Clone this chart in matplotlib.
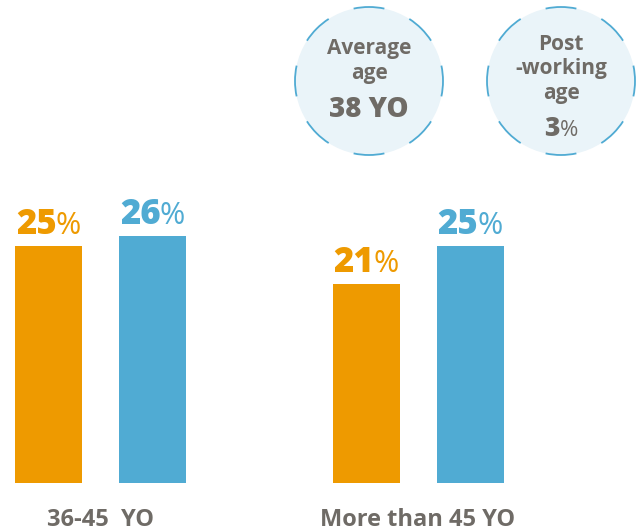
import matplotlib
matplotlib.use("Agg")
import matplotlib.pyplot as plt
from matplotlib.patches import Circle, Arc

# ---- data ----
categories = ["36-45  YO", "More than 45 YO"]
series_names = ["Series A", "Series B"]
values_a = [25, 21]   # orange
values_b = [26, 25]   # blue
avg_age_label = ["Average", "age"]
avg_age_value = "38 YO"
post_label = ["Post", "-working", "age"]
post_value = 3

ORANGE = "#EE9A00"
BLUE = "#50ABD3"
GREY = "#6F6B66"
FILL = "#EAF4F9"
FONT = "Open Sans"

fig = plt.figure(figsize=(6.42, 5.32), dpi=100)
ax = fig.add_axes([0, 0, 1, 1])
ax.set_xlim(0, 642)
ax.set_ylim(-(532 - 483) / 9.5, 483 / 9.5)
ax.axis("off")

group_centers = [100.5, 418]
offset = 52
width = 67
xa = [c - offset for c in group_centers]
xb = [c + offset for c in group_centers]
ax.bar(xa, values_a, width=width, color=ORANGE)
ax.bar(xb, values_b, width=width, color=BLUE)

fig.canvas.draw()
renderer = fig.canvas.get_renderer()
px_per_unit = 9.5

def value_label(x, v, color):
    y = v + 12 / px_per_unit
    t1 = ax.text(x, y, f"{v}", color=color, fontsize=25, fontweight=800,
                 family=FONT, ha="left", va="baseline")
    t2 = ax.text(x, y, "%", color=color, fontsize=22, fontweight=400,
                 family=FONT, ha="left", va="baseline")
    w1 = t1.get_window_extent(renderer).width
    w2 = t2.get_window_extent(renderer).width
    gap = -1
    total = w1 + w2 + gap
    left = x - total / 2
    t1.set_x(left)
    t2.set_x(left + w1 + gap)

for x, v in zip(xa, values_a):
    value_label(x, v, ORANGE)
for x, v in zip(xb, values_b):
    value_label(x, v, BLUE)

# category labels
for x, c in zip(group_centers, categories):
    ax.text(x, -(526 - 483) / px_per_unit, c, color=GREY, fontsize=17,
            fontweight="bold", family=FONT, ha="center", va="baseline")

# overlay axes in pixel coordinates for circles
ax2 = fig.add_axes([0, 0, 1, 1])
ax2.set_xlim(0, 642)
ax2.set_ylim(532, 0)
ax2.axis("off")
ax2.patch.set_alpha(0)

circles = [(369, 81), (561, 81)]
R = 74
for cx, cy in circles:
    ax2.add_patch(Circle((cx, cy), R, facecolor=FILL, edgecolor="none"))
    for k in range(8):
        ang = 45 * k
        ax2.add_patch(Arc((cx, cy), 2 * R, 2 * R, theta1=ang - 12, theta2=ang + 12,
                          color=BLUE, lw=1.3))

cx, cy = circles[0]
ax2.text(cx, 54, avg_age_label[0], color=GREY, fontsize=15, fontweight="bold",
         family=FONT, ha="center", va="baseline")
ax2.text(cx, 79, avg_age_label[1], color=GREY, fontsize=15, fontweight="bold",
         family=FONT, ha="center", va="baseline")
ax2.text(cx, 117, avg_age_value, color=GREY, fontsize=20, fontweight=800,
         family=FONT, ha="center", va="baseline")

cx, cy = circles[1]
for yy, s in zip([50, 74, 99], post_label):
    ax2.text(cx, yy, s, color=GREY, fontsize=15, fontweight="bold",
             family=FONT, ha="center", va="baseline")
t1 = ax2.text(cx, 136, f"{post_value}", color=GREY, fontsize=19, fontweight=800,
              family=FONT, ha="left", va="baseline")
t2 = ax2.text(cx, 136, "%", color=GREY, fontsize=16, fontweight=400, family=FONT,
              ha="left", va="baseline")
w1 = t1.get_window_extent(renderer).width
w2 = t2.get_window_extent(renderer).width
left = cx - (w1 + w2) / 2
t1.set_x(left)
t2.set_x(left + w1)

fig.savefig("out.png", dpi=100)
